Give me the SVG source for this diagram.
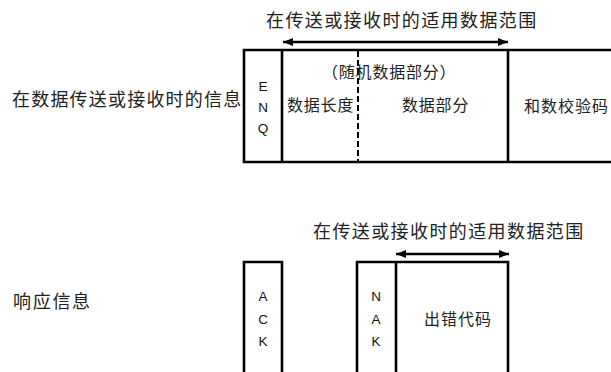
<svg xmlns="http://www.w3.org/2000/svg" width="611" height="372" viewBox="0 0 611 372">
<style>
.cjk{font-family:"Noto Sans CJK SC","Noto Sans",sans-serif;fill:#222}
.big{font-size:18px;letter-spacing:1.4px}
.mid{font-size:16px;letter-spacing:0.8px}
.lat{font-family:"Liberation Sans",Arial,sans-serif;font-size:13.5px;fill:#111;text-anchor:middle}
.box{fill:none;stroke:#000;stroke-width:2.6}
.arr{stroke:#000;stroke-width:2.6;fill:none}
</style>
<defs>
<marker id="ah" viewBox="0 0 10 8" refX="10" refY="4" markerWidth="10" markerHeight="8" markerUnits="userSpaceOnUse" orient="auto-start-reverse">
<path d="M0,0L10,4L0,8z" fill="#000"/>
</marker>
</defs>

<g id="label-send">
<text class="cjk big" x="12" y="106" style="letter-spacing:1.2px">在数据传送或接收时的信息</text>
</g>
<g id="label-resp">
<text class="cjk big" x="13" y="308" style="letter-spacing:1.7px">响应信息</text>
</g>
<g id="title-top">
<text class="cjk big" x="266" y="27">在传送或接收时的适用数据范围</text>
</g>
<g id="title-bottom">
<text class="cjk big" x="313" y="238">在传送或接收时的适用数据范围</text>
</g>

<g id="frame-send">
<path class="box" d="M613,50H244V162H613M282,50V162M508,50V162"/>
<line x1="358" y1="51" x2="358" y2="161" stroke="#000" stroke-width="2" stroke-dasharray="6,3"/>
</g>
<g id="enq">
<text class="lat" x="263" y="91">E</text>
<text class="lat" x="263" y="112">N</text>
<text class="lat" x="263" y="133">Q</text>
</g>
<g id="data-length">
<text class="cjk mid" x="287" y="111">数据长度</text>
</g>
<g id="random-data">
<text class="cjk mid" x="322" y="78">（随机数据部分）</text>
</g>
<g id="data-part">
<text class="cjk mid" x="402" y="111">数据部分</text>
</g>
<g id="checksum">
<text class="cjk mid" x="524" y="112" style="letter-spacing:1px">和数校验码</text>
</g>

<g id="ack">
<path class="box" d="M244,374V262H282V374"/>
<text class="lat" x="263" y="301">A</text>
<text class="lat" x="263" y="324">C</text>
<text class="lat" x="263" y="346">K</text>
</g>
<g id="nak">
<path class="box" d="M357,374V262H508V374M396,262V374"/>
<text class="lat" x="376" y="301">N</text>
<text class="lat" x="376" y="324">A</text>
<text class="lat" x="376" y="346">K</text>
</g>
<g id="error-code">
<text class="cjk mid" x="424" y="325" style="letter-spacing:1px">出错代码</text>
</g>

<g id="connectors">
<line class="arr" x1="283" y1="42" x2="508" y2="42" marker-start="url(#ah)" marker-end="url(#ah)"/>
<line class="arr" x1="396" y1="254" x2="509" y2="254" marker-start="url(#ah)" marker-end="url(#ah)"/>
</g>
</svg>
